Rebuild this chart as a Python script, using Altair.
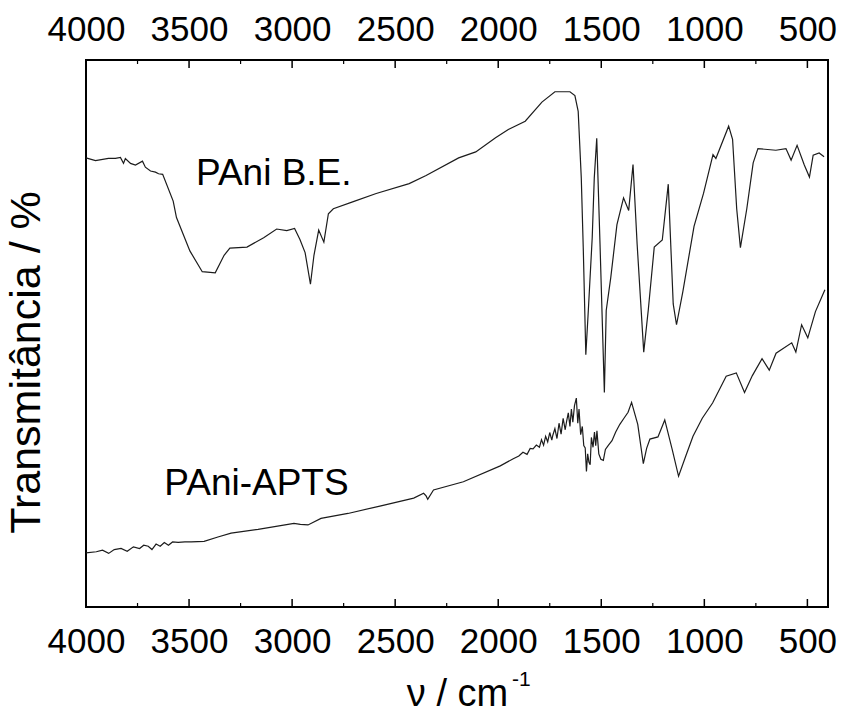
import altair as alt
import pandas as pd

# ---- data ----
upper_wn = [4000, 3954, 3891, 3857, 3833, 3818, 3809, 3784, 3760, 3726, 3712, 3687, 3663, 3648, 3628,
            3577, 3561, 3496, 3436, 3373, 3330, 3302, 3219, 3138, 3075, 3026, 2988, 2962, 2937, 2911,
            2894, 2871, 2846, 2824, 2800, 2703, 2592, 2432, 2350, 2192, 2109, 2013, 1951, 1869, 1788,
            1725, 1652, 1628, 1612, 1597, 1587, 1575, 1563, 1544, 1534, 1522, 1506, 1485, 1476, 1454,
            1424, 1392, 1367, 1346, 1326, 1294, 1272, 1243, 1204, 1175, 1151, 1135, 1104, 1050, 1004,
            958, 944, 882, 863, 843, 825, 794, 763, 740, 653, 604, 579, 550, 515, 490, 472, 443, 419]
upper_t = [82.1, 81.6, 82.0, 82.0, 82.2, 81.1, 82.0, 81.1, 80.8, 81.5, 80.4, 79.7, 79.5, 79.2, 79.1,
           74.2, 71.2, 65.1, 61.3, 61.1, 64.3, 65.6, 65.8, 67.5, 69.1, 68.8, 69.2, 67.2, 64.8, 59.0,
           64.3, 68.9, 66.7, 71.9, 72.8, 74.1, 75.6, 77.4, 78.9, 82.1, 83.2, 85.8, 87.3, 88.8, 92.3,
           94.2, 94.2, 93.5, 90.6, 78.4, 65.0, 46.1, 54.1, 67.5, 78.4, 85.7, 66.2, 39.2, 54.2, 60.2,
           69.9, 74.8, 72.5, 80.9, 66.3, 46.6, 54.3, 65.8, 67.1, 77.3, 55.4, 51.6, 57.7, 69.6, 75.6,
           82.7, 82.0, 87.9, 85.5, 72.8, 65.7, 72.8, 81.2, 83.8, 83.5, 83.8, 81.7, 84.4, 80.8, 78.6,
           82.6, 83.0, 82.3]

lower_wn = [4000, 3950, 3920, 3890, 3863, 3830, 3800, 3770, 3740, 3720, 3698, 3680, 3660, 3640, 3620,
            3600, 3580, 3553, 3520, 3490, 3427, 3360, 3296, 3165, 2991, 2960, 2923, 2860, 2729, 2569,
            2410, 2362, 2350, 2342, 2314, 2169, 1990, 1927, 1900, 1880, 1860, 1845, 1831, 1815, 1800,
            1790, 1780, 1770, 1760, 1750, 1740, 1735, 1725, 1715, 1705, 1695, 1685, 1675, 1668, 1660,
            1652, 1645, 1638, 1630, 1621, 1614, 1608, 1600, 1592, 1585, 1578, 1572, 1566, 1560, 1554,
            1548, 1540, 1533, 1527, 1521, 1512, 1502, 1490, 1480, 1465, 1448, 1430, 1410, 1390, 1370,
            1353, 1323, 1296, 1280, 1264, 1225, 1192, 1156, 1125, 1090, 1055, 1010, 960, 894, 845,
            805, 767, 720, 685, 652, 576, 556, 528, 498, 461, 415]
lower_t = [9.9, 10.1, 10.4, 9.8, 10.5, 10.7, 10.2, 11.0, 10.7, 11.3, 11.1, 10.5, 11.5, 11.1, 11.8,
           11.3, 11.9, 11.8, 11.9, 11.9, 12.0, 12.8, 13.5, 14.2, 15.3, 15.1, 15.0, 16.2, 17.1, 18.5,
           19.9, 20.8, 20.3, 19.7, 21.4, 22.9, 25.8, 27.1, 27.6, 28.3, 27.9, 29.0, 28.9, 29.6, 29.2,
           30.6, 29.6, 31.2, 30.2, 31.9, 30.5, 31.4, 32.6, 30.8, 33.6, 31.6, 34.5, 32.4, 34.0, 35.5,
           33.0, 36.2, 33.8, 36.8, 38.2, 33.6, 36.2, 31.5, 33.0, 29.5, 29.1, 24.8, 28.0, 26.5, 26.0,
           31.0, 29.2, 32.0, 29.5, 32.2, 28.0, 27.0, 26.8, 28.8, 29.6, 30.4, 32.0, 33.4, 34.5, 35.6,
           37.4, 33.4, 26.2, 29.0, 30.7, 31.1, 34.2, 28.8, 23.9, 27.6, 31.2, 34.5, 37.3, 42.2, 42.8,
           39.2, 42.3, 45.4, 43.3, 46.4, 48.3, 46.6, 51.6, 49.2, 54.0, 58.0]

series_names = ["PAni B.E.", "PAni-APTS"]
label_wn = [3089, 3173]
label_t = [77.2, 20.5]

major_ticks = [4000, 3500, 3000, 2500, 2000, 1500, 1000, 500]
minor_ticks = [3750, 3250, 2750, 2250, 1750, 1250, 750]

x_title = "ν / cm"
x_title_sup = "-1"
y_title = "Transmitância / %"

# ---- tables ----
curves = pd.concat([
    pd.DataFrame({"wn": upper_wn, "T": upper_t, "serie": series_names[0]}),
    pd.DataFrame({"wn": lower_wn, "T": lower_t, "serie": series_names[1]}),
])
labels_df = pd.DataFrame({"wn": label_wn, "T": label_t, "label": series_names})
major_df = pd.DataFrame({"v": major_ticks})
minor_df = pd.DataFrame({"v": minor_ticks})
sup_df = pd.DataFrame({"t": [x_title_sup]})

FONT = "Liberation Sans"
W, H = 742, 547
xscale = alt.Scale(domain=[4000, 400], nice=False, zero=False)
yscale = alt.Scale(domain=[0, 100], nice=False, zero=False)

bottom_axis = alt.Axis(orient="bottom", values=major_ticks, format="d", labelFontSize=35,
                       labelPadding=45, labelBaseline="alphabetic", labelFlush=False,
                       labelOverlap=False, labelBound=False, ticks=False, tickSize=0,
                       domain=False, grid=False, title=x_title, titleFontSize=38,
                       titleFontWeight="normal", titleX=371, titleY=98,
                       titleBaseline="alphabetic", titleAlign="center")
top_axis = alt.Axis(orient="top", values=major_ticks, format="d", labelFontSize=35,
                    labelPadding=20, labelBaseline="alphabetic", labelFlush=False,
                    labelOverlap=False, labelBound=False, ticks=False, tickSize=0,
                    domain=False, grid=False, title=None)
left_axis = alt.Axis(title=y_title, labels=False, ticks=False, domain=False, grid=False,
                     titleFontSize=43, titleFontWeight="normal", titleX=-38, titleY=302,
                     titleAngle=270, titleAlign="center", titleBaseline="bottom")

lines = alt.Chart(curves).mark_line(color="#1c1c1c", strokeWidth=1.2).encode(
    x=alt.X("wn:Q", scale=xscale, axis=bottom_axis),
    y=alt.Y("T:Q", scale=yscale, axis=left_axis),
    detail="serie:N",
)

top_major = alt.Chart(major_df).mark_rule(color="black", strokeWidth=1.5).encode(
    x=alt.X("v:Q", scale=xscale, axis=top_axis), y=alt.value(0), y2=alt.value(8))
top_minor = alt.Chart(minor_df).mark_rule(color="black", strokeWidth=1.2).encode(
    x=alt.X("v:Q", scale=xscale, axis=None), y=alt.value(0), y2=alt.value(4))
bot_major = alt.Chart(major_df).mark_rule(color="black", strokeWidth=1.5).encode(
    x=alt.X("v:Q", scale=xscale, axis=None), y=alt.value(H), y2=alt.value(H - 8))
bot_minor = alt.Chart(minor_df).mark_rule(color="black", strokeWidth=1.2).encode(
    x=alt.X("v:Q", scale=xscale, axis=None), y=alt.value(H), y2=alt.value(H - 4))

texts = alt.Chart(labels_df).mark_text(font=FONT, fontSize=37, align="center",
                                       baseline="alphabetic", color="black").encode(
    x=alt.X("wn:Q", scale=xscale, axis=None),
    y=alt.Y("T:Q", scale=yscale, axis=None),
    text="label:N",
)

sup = alt.Chart(sup_df).mark_text(font=FONT, fontSize=21, align="left",
                                  baseline="alphabetic", color="black").encode(
    x=alt.value(426), y=alt.value(626), text="t:N")

chart = alt.layer(lines, top_major, top_minor, bot_major, bot_minor, texts, sup).resolve_axis(
    x="independent", y="independent"
).properties(
    width=W, height=H,
    padding={"left": 86, "top": 60, "right": 17, "bottom": 107},
    autosize=alt.AutoSizeParams(type="none"),
    background="white",
).configure_view(stroke="black", strokeWidth=2).configure_axis(
    labelFont=FONT, titleFont=FONT, labelColor="black", titleColor="black"
)

chart.save("out.html", embed_options={"renderer": "svg", "actions": False})
